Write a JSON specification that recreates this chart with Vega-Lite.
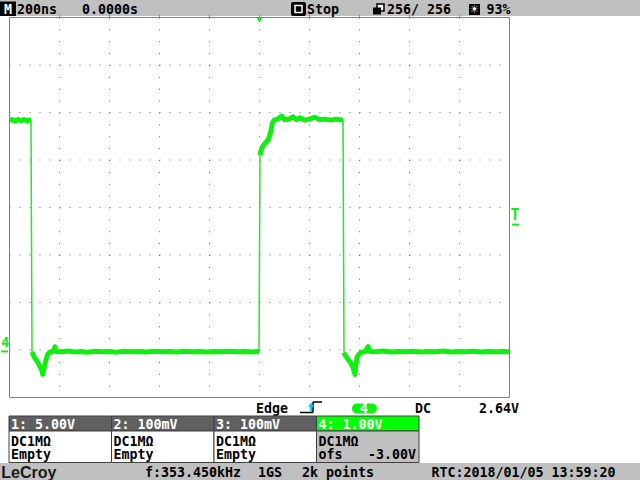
{
  "$schema": "https://vega.github.io/schema/vega-lite/v6.json",
  "width": 640,
  "height": 447,
  "autosize": "none",
  "padding": {"top": 16, "bottom": 17, "left": 0, "right": 0},
  "background": "#c0c0c0",
  "view": {"fill": "white", "stroke": null},
  "config": {
    "view": {"fill": "white", "stroke": null},
    "axis": {"disable": true},
    "text": {"font": "DejaVu Sans Mono", "fontSize": 13.3, "fontWeight": "bold", "align": "left", "baseline": "alphabetic", "color": "black"}
  },
  "datasets": {
    "one": [{}],
    "hgrid": [{"v": 0}, {"v": 1}, {"v": 2}, {"v": 3}, {"v": 4}, {"v": 5}, {"v": 6}],
    "vgrid": [{"t": -800}, {"t": -600}, {"t": -400}, {"t": -200}, {"t": 0}, {"t": 200}, {"t": 400}, {"t": 600}, {"t": 800}],
    "trace": [
      {"t": -1000, "v": 4.84, "seg": "a"}, {"t": -990, "v": 4.85, "seg": "a"}, {"t": -978, "v": 4.82, "seg": "a"}, {"t": -966, "v": 4.85, "seg": "a"}, {"t": -954, "v": 4.83, "seg": "a"}, {"t": -942, "v": 4.85, "seg": "a"}, {"t": -930, "v": 4.82, "seg": "a"}, {"t": -920, "v": 4.84, "seg": "a"}, {"t": -914, "v": 4.84, "seg": "a"},
      {"t": -910, "v": -0.04, "seg": "b"}, {"t": -905, "v": -0.105, "seg": "b"}, {"t": -898, "v": -0.175, "seg": "b"}, {"t": -891, "v": -0.225, "seg": "b"}, {"t": -885, "v": -0.28, "seg": "b"}, {"t": -878, "v": -0.352, "seg": "b"}, {"t": -871, "v": -0.421, "seg": "b"}, {"t": -867, "v": -0.512, "seg": "b"}, {"t": -862, "v": -0.385, "seg": "b"}, {"t": -854, "v": -0.211, "seg": "b"}, {"t": -849, "v": -0.105, "seg": "b"}, {"t": -841, "v": -0.057, "seg": "b"}, {"t": -830, "v": -0.035, "seg": "b"}, {"t": -822, "v": -0.02, "seg": "b"}, {"t": -818, "v": 0.069, "seg": "b"}, {"t": -814, "v": -0.03, "seg": "b"}, {"t": -790, "v": -0.035, "seg": "b"}, {"t": -765, "v": -0.02, "seg": "b"}, {"t": -740, "v": -0.04, "seg": "b"}, {"t": -712, "v": -0.03, "seg": "b"}, {"t": -690, "v": -0.05, "seg": "b"}, {"t": -660, "v": -0.025, "seg": "b"}, {"t": -630, "v": -0.035, "seg": "b"}, {"t": -600, "v": -0.03, "seg": "b"}, {"t": -570, "v": -0.045, "seg": "b"}, {"t": -540, "v": -0.025, "seg": "b"}, {"t": -510, "v": -0.035, "seg": "b"}, {"t": -480, "v": -0.03, "seg": "b"}, {"t": -450, "v": -0.04, "seg": "b"}, {"t": -420, "v": -0.025, "seg": "b"}, {"t": -390, "v": -0.035, "seg": "b"}, {"t": -360, "v": -0.03, "seg": "b"}, {"t": -330, "v": -0.04, "seg": "b"}, {"t": -300, "v": -0.025, "seg": "b"}, {"t": -270, "v": -0.035, "seg": "b"}, {"t": -240, "v": -0.03, "seg": "b"}, {"t": -210, "v": -0.04, "seg": "b"}, {"t": -180, "v": -0.03, "seg": "b"}, {"t": -150, "v": -0.035, "seg": "b"}, {"t": -120, "v": -0.025, "seg": "b"}, {"t": -90, "v": -0.035, "seg": "b"}, {"t": -60, "v": -0.03, "seg": "b"}, {"t": -30, "v": -0.04, "seg": "b"}, {"t": -2, "v": -0.03, "seg": "b"},
      {"t": 2, "v": 4.10, "seg": "c"}, {"t": 5, "v": 4.175, "seg": "c"}, {"t": 9, "v": 4.246, "seg": "c"}, {"t": 15, "v": 4.30, "seg": "c"}, {"t": 22, "v": 4.352, "seg": "c"}, {"t": 30, "v": 4.40, "seg": "c"}, {"t": 35, "v": 4.421, "seg": "c"}, {"t": 39, "v": 4.491, "seg": "c"}, {"t": 45, "v": 4.596, "seg": "c"}, {"t": 51, "v": 4.773, "seg": "c"}, {"t": 59, "v": 4.842, "seg": "c"}, {"t": 72, "v": 4.86, "seg": "c"}, {"t": 89, "v": 4.926, "seg": "c"}, {"t": 100, "v": 4.85, "seg": "c"}, {"t": 118, "v": 4.86, "seg": "c"}, {"t": 134, "v": 4.91, "seg": "c"}, {"t": 148, "v": 4.85, "seg": "c"}, {"t": 162, "v": 4.89, "seg": "c"}, {"t": 180, "v": 4.84, "seg": "c"}, {"t": 200, "v": 4.86, "seg": "c"}, {"t": 221, "v": 4.90, "seg": "c"}, {"t": 240, "v": 4.85, "seg": "c"}, {"t": 262, "v": 4.86, "seg": "c"}, {"t": 285, "v": 4.84, "seg": "c"}, {"t": 305, "v": 4.86, "seg": "c"}, {"t": 320, "v": 4.85, "seg": "c"}, {"t": 334, "v": 4.84, "seg": "c"},
      {"t": 338, "v": -0.05, "seg": "d"}, {"t": 342, "v": -0.105, "seg": "d"}, {"t": 349, "v": -0.154, "seg": "d"}, {"t": 355, "v": -0.211, "seg": "d"}, {"t": 362, "v": -0.246, "seg": "d"}, {"t": 369, "v": -0.316, "seg": "d"}, {"t": 375, "v": -0.385, "seg": "d"}, {"t": 382, "v": -0.512, "seg": "d"}, {"t": 386, "v": -0.28, "seg": "d"}, {"t": 391, "v": -0.141, "seg": "d"}, {"t": 399, "v": -0.084, "seg": "d"}, {"t": 409, "v": -0.048, "seg": "d"}, {"t": 422, "v": -0.035, "seg": "d"}, {"t": 435, "v": 0.069, "seg": "d"}, {"t": 440, "v": -0.03, "seg": "d"}, {"t": 465, "v": -0.035, "seg": "d"}, {"t": 495, "v": -0.02, "seg": "d"}, {"t": 525, "v": -0.04, "seg": "d"}, {"t": 555, "v": -0.03, "seg": "d"}, {"t": 585, "v": -0.035, "seg": "d"}, {"t": 615, "v": -0.025, "seg": "d"}, {"t": 645, "v": -0.04, "seg": "d"}, {"t": 675, "v": -0.03, "seg": "d"}, {"t": 705, "v": -0.035, "seg": "d"}, {"t": 735, "v": -0.02, "seg": "d"}, {"t": 765, "v": -0.04, "seg": "d"}, {"t": 795, "v": -0.03, "seg": "d"}, {"t": 825, "v": -0.035, "seg": "d"}, {"t": 855, "v": -0.025, "seg": "d"}, {"t": 885, "v": -0.04, "seg": "d"}, {"t": 915, "v": -0.03, "seg": "d"}, {"t": 945, "v": -0.035, "seg": "d"}, {"t": 975, "v": -0.03, "seg": "d"}, {"t": 1000, "v": -0.035, "seg": "d"}
    ],
    "edges": [
      {"t": -914, "v": 4.84, "edge": "e1"}, {"t": -910, "v": -0.04, "edge": "e1"},
      {"t": -2, "v": -0.03, "edge": "e2"}, {"t": 2, "v": 4.10, "edge": "e2"},
      {"t": 334, "v": 4.84, "edge": "e3"}, {"t": 338, "v": -0.05, "edge": "e3"}
    ],
    "channels": [
      {"ch": "1", "label": "1: 5.00V", "coupling": "DC1MΩ", "info": "Empty", "offset": ""},
      {"ch": "2", "label": "2: 100mV", "coupling": "DC1MΩ", "info": "Empty", "offset": ""},
      {"ch": "3", "label": "3: 100mV", "coupling": "DC1MΩ", "info": "Empty", "offset": ""},
      {"ch": "4", "label": "4: 1.00V", "coupling": "DC1MΩ", "info": "ofs", "offset": "-3.00V"}
    ]
  },
  "resolve": {"scale": {"x": "independent"}},
  "layer": [
    {
      "layer": [
        {"data": {"name": "hgrid"}, "mark": {"type": "rule", "color": "#6a6a6a", "strokeWidth": 1, "strokeDash": [1, 9]},
         "encoding": {"x": {"datum": -1000}, "x2": {"datum": 1000}, "y": {"field": "v", "type": "quantitative"}}},
        {"data": {"name": "vgrid"}, "mark": {"type": "rule", "color": "#6a6a6a", "strokeWidth": 1, "strokeDash": [1, 10.875]},
         "encoding": {"x": {"field": "t", "type": "quantitative"}, "y": {"datum": 7}, "y2": {"datum": -1}}},
        {"data": {"name": "vgrid"}, "mark": {"type": "rule", "color": "#808080", "strokeWidth": 1},
         "encoding": {"x": {"field": "t", "type": "quantitative"}, "y": {"datum": 7}, "y2": {"datum": 7.06}}},
        {"data": {"name": "one"}, "mark": {"type": "rect", "fillOpacity": 0, "stroke": "#808080", "strokeWidth": 1},
         "encoding": {"x": {"datum": -1000}, "x2": {"datum": 1000}, "y": {"datum": 7}, "y2": {"datum": -1}}},
        {"data": {"name": "trace"}, "mark": {"type": "line", "color": "#10f010", "strokeWidth": 5, "strokeJoin": "round"},
         "encoding": {
           "x": {"field": "t", "type": "quantitative", "scale": {"domain": [-1038, 1522], "nice": false, "zero": false}},
           "y": {"field": "v", "type": "quantitative", "scale": {"domain": [-2.3789, 7.0316], "nice": false, "zero": false}},
           "detail": {"field": "seg"}}},
        {"data": {"name": "edges"}, "mark": {"type": "line", "color": "#30e030", "strokeWidth": 1.5},
         "encoding": {"x": {"field": "t", "type": "quantitative"}, "y": {"field": "v", "type": "quantitative"}, "detail": {"field": "edge"}}},
        {"data": {"name": "one"}, "mark": {"type": "point", "shape": "triangle-down", "filled": true, "color": "#10f010", "size": 28, "opacity": 1},
         "encoding": {"x": {"datum": 0}, "y": {"datum": 6.94}}},
        {"data": {"name": "one"}, "mark": {"type": "text", "text": "4", "color": "#10f010", "fontSize": 14},
         "encoding": {"x": {"datum": -1034}, "y": {"datum": 0.053}}},
        {"data": {"name": "one"}, "mark": {"type": "rule", "color": "#10f010", "strokeWidth": 2},
         "encoding": {"x": {"datum": -1034}, "x2": {"datum": -1006}, "y": {"datum": -0.03}}},
        {"data": {"name": "one"}, "mark": {"type": "text", "text": "T", "color": "#10f010", "fontSize": 15, "align": "center"},
         "encoding": {"x": {"datum": 1022}, "y": {"datum": 2.737}}},
        {"data": {"name": "one"}, "mark": {"type": "rule", "color": "#10f010", "strokeWidth": 2},
         "encoding": {"x": {"datum": 1010}, "x2": {"datum": 1038}, "y": {"datum": 2.64}}},

        {"data": {"name": "one"}, "mark": {"type": "rect", "color": "black"},
         "encoding": {"x": {"datum": -1038}, "x2": {"datum": -974}, "y": {"datum": 7.3368}, "y2": {"datum": 7.0316}}},
        {"data": {"name": "one"}, "mark": {"type": "text", "text": "M", "color": "white", "align": "center"},
         "encoding": {"x": {"datum": -1006}, "y": {"datum": 7.0842}}},
        {"data": {"name": "one"}, "mark": {"type": "text", "text": "200ns"},
         "encoding": {"x": {"datum": -970}, "y": {"datum": 7.0842}}},
        {"data": {"name": "one"}, "mark": {"type": "text", "text": "0.0000s"},
         "encoding": {"x": {"datum": -710}, "y": {"datum": 7.0842}}},
        {"data": {"name": "one"}, "mark": {"type": "rect", "color": "black", "cornerRadius": 2},
         "encoding": {"x": {"datum": 126}, "x2": {"datum": 186}, "y": {"datum": 7.3263}, "y2": {"datum": 7.0316}}},
        {"data": {"name": "one"}, "mark": {"type": "rect", "fillOpacity": 0, "stroke": "white", "strokeWidth": 1.5},
         "encoding": {"x": {"datum": 142}, "x2": {"datum": 170}, "y": {"datum": 7.2526}, "y2": {"datum": 7.1053}}},
        {"data": {"name": "one"}, "mark": {"type": "text", "text": "Stop"},
         "encoding": {"x": {"datum": 190}, "y": {"datum": 7.0842}}},
        {"data": {"name": "one"}, "mark": {"type": "rect", "fill": "white", "stroke": "black", "strokeWidth": 1.5},
         "encoding": {"x": {"datum": 470}, "x2": {"datum": 498}, "y": {"datum": 7.2842}, "y2": {"datum": 7.1368}}},
        {"data": {"name": "one"}, "mark": {"type": "rect", "color": "black"},
         "encoding": {"x": {"datum": 454}, "x2": {"datum": 486}, "y": {"datum": 7.2105}, "y2": {"datum": 7.0632}}},
        {"data": {"name": "one"}, "mark": {"type": "text", "text": "256/ 256"},
         "encoding": {"x": {"datum": 510}, "y": {"datum": 7.0842}}},
        {"data": {"name": "one"}, "mark": {"type": "rect", "color": "black"},
         "encoding": {"x": {"datum": 838}, "x2": {"datum": 882}, "y": {"datum": 7.2842}, "y2": {"datum": 7.0526}}},
        {"data": {"name": "one"}, "mark": {"type": "text", "text": "☀", "font": "DejaVu Sans", "fontSize": 11, "color": "white", "align": "center", "baseline": "middle"},
         "encoding": {"x": {"datum": 860}, "y": {"datum": 7.1684}}},
        {"data": {"name": "one"}, "mark": {"type": "text", "text": "93%"},
         "encoding": {"x": {"datum": 908}, "y": {"datum": 7.0842}}},

        {"data": {"name": "one"}, "mark": {"type": "text", "text": "Edge"},
         "encoding": {"x": {"datum": -14}, "y": {"datum": -1.3158}}},
        {"data": {"name": "one"}, "mark": {"type": "rule", "color": "black", "strokeWidth": 1.5},
         "encoding": {"x": {"datum": 162}, "x2": {"datum": 214}, "y": {"datum": -1.3158}}},
        {"data": {"name": "one"}, "mark": {"type": "rule", "color": "black", "strokeWidth": 1.5},
         "encoding": {"x": {"datum": 214}, "y": {"datum": -1.0947}, "y2": {"datum": -1.3158}}},
        {"data": {"name": "one"}, "mark": {"type": "rule", "color": "black", "strokeWidth": 1.5},
         "encoding": {"x": {"datum": 214}, "x2": {"datum": 250}, "y": {"datum": -1.0947}}},
        {"data": {"name": "one"}, "mark": {"type": "rule", "color": "#00c8ff", "strokeWidth": 2},
         "encoding": {"x": {"datum": 206}, "y": {"datum": -1.16}, "y2": {"datum": -1.3}}},
        {"data": {"name": "one"}, "mark": {"type": "point", "shape": "triangle-up", "filled": true, "color": "#00c8ff", "size": 30, "opacity": 1},
         "encoding": {"x": {"datum": 206}, "y": {"datum": -1.15}}},
        {"data": {"name": "one"}, "mark": {"type": "rect", "color": "#10f010", "cornerRadius": 6},
         "encoding": {"x": {"datum": 370}, "x2": {"datum": 470}, "y": {"datum": -1.1263}, "y2": {"datum": -1.3368}}},
        {"data": {"name": "one"}, "mark": {"type": "text", "text": "4", "color": "white", "align": "center"},
         "encoding": {"x": {"datum": 418}, "y": {"datum": -1.3158}}},
        {"data": {"name": "one"}, "mark": {"type": "text", "text": "DC"},
         "encoding": {"x": {"datum": 622}, "y": {"datum": -1.3158}}},
        {"data": {"name": "one"}, "mark": {"type": "text", "text": "2.64V"},
         "encoding": {"x": {"datum": 878}, "y": {"datum": -1.3158}}},

        {"data": {"name": "one"}, "mark": {"type": "text", "text": "LeCroy", "font": "Liberation Sans", "fontSize": 16, "fontWeight": "bold", "color": "#1a1a1a"},
         "encoding": {"x": {"datum": -1033}, "y": {"datum": -2.6842}}},
        {"data": {"name": "one"}, "mark": {"type": "text", "text": "f:353.450kHz"},
         "encoding": {"x": {"datum": -458}, "y": {"datum": -2.6632}}},
        {"data": {"name": "one"}, "mark": {"type": "text", "text": "1GS"},
         "encoding": {"x": {"datum": -6}, "y": {"datum": -2.6632}}},
        {"data": {"name": "one"}, "mark": {"type": "text", "text": "2k points"},
         "encoding": {"x": {"datum": 170}, "y": {"datum": -2.6632}}},
        {"data": {"name": "one"}, "mark": {"type": "text", "text": "RTC:2018/01/05 13:59:20"},
         "encoding": {"x": {"datum": 688}, "y": {"datum": -2.6632}}}
      ]
    },
    {
      "data": {"name": "channels"},
      "layer": [
        {"mark": {"type": "rect", "stroke": "#404040", "strokeWidth": 1},
         "encoding": {
           "x": {"field": "ch", "type": "nominal", "scale": {"type": "band", "domain": ["1", "2", "3", "4"], "range": [9, 419], "paddingInner": 0, "paddingOuter": 0}},
           "y": {"datum": -1.3895}, "y2": {"datum": -1.7053},
           "fill": {"condition": {"test": "datum.ch === '4'", "value": "#00ff00"}, "value": "#606060"}}},
        {"mark": {"type": "rect", "stroke": "#404040", "strokeWidth": 1},
         "encoding": {
           "x": {"field": "ch", "type": "nominal"},
           "y": {"datum": -1.7053}, "y2": {"datum": -2.3684},
           "fill": {"condition": {"test": "datum.ch === '4'", "value": "#c0c0c0"}, "value": "white"}}},
        {"mark": {"type": "text", "color": "white", "dx": 2},
         "encoding": {"x": {"field": "ch", "type": "nominal", "bandPosition": 0}, "y": {"datum": -1.6526}, "text": {"field": "label"}}},
        {"mark": {"type": "text", "dx": 2},
         "encoding": {"x": {"field": "ch", "type": "nominal", "bandPosition": 0}, "y": {"datum": -2.0105}, "text": {"field": "coupling"}}},
        {"mark": {"type": "text", "dx": 2},
         "encoding": {"x": {"field": "ch", "type": "nominal", "bandPosition": 0}, "y": {"datum": -2.2947}, "text": {"field": "info"}}},
        {"mark": {"type": "text", "dx": -3, "align": "right"},
         "encoding": {"x": {"field": "ch", "type": "nominal", "bandPosition": 1}, "y": {"datum": -2.2947}, "text": {"field": "offset"}}}
      ]
    }
  ]
}
